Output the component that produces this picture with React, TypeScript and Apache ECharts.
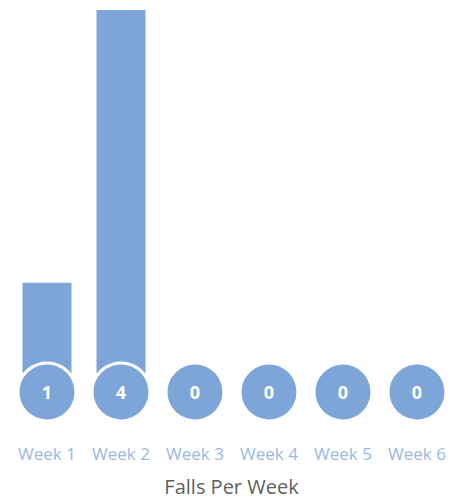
import React, { useEffect, useRef } from "react";
import * as echarts from "echarts";

const categories = ["Week 1", "Week 2", "Week 3", "Week 4", "Week 5", "Week 6"];
const falls = [1, 4, 0, 0, 0, 0];
const chartTitle = "Falls Per Week";
const badgeLevel = -0.2;

export default function App() {
  const ref = useRef<HTMLDivElement>(null);
  useEffect(() => {
    document.body.style.margin = "0";
    if (!ref.current) return;
    const chart = echarts.init(ref.current, undefined, { renderer: "svg" });
    chart.setOption({
      animation: false,
      title: {
        text: chartTitle,
        left: "center",
        top: 475,
        padding: 0,
        textStyle: { fontSize: 20, fontWeight: "normal", color: "#5f5f5f", fontFamily: "Open Sans", lineHeight: 22 },
      },
      grid: { left: 10, right: 9, top: 10, bottom: 109 },
      xAxis: {
        type: "category",
        data: categories,
        axisLine: { show: false },
        axisTick: { show: false },
        axisLabel: { interval: 0, margin: 53, fontSize: 17, color: "#9ab8e2", fontFamily: "Open Sans" },
      },
      yAxis: {
        type: "value",
        min: badgeLevel,
        max: 4,
        show: false,
        splitLine: { show: false },
      },
      series: [
        {
          type: "bar",
          data: falls,
          barWidth: 49,
          itemStyle: { color: "#7ea5d8" },
          z: 1,
        },
        {
          type: "scatter",
          data: falls.map(() => badgeLevel),
          symbol: "circle",
          symbolSize: 58,
          itemStyle: { color: "#7ea5d8", borderColor: "#ffffff", borderWidth: 3, opacity: 1 },
          label: {
            show: true,
            position: "inside",
            formatter: (p: any) => String(falls[p.dataIndex]),
            color: "#ffffff",
            fontSize: 18,
            fontWeight: "bold",
            fontFamily: "Open Sans",
          },
          z: 3,
        },
      ],
    });
    return () => chart.dispose();
  }, []);
  return <div ref={ref} style={{ width: 463, height: 501 }} />;
}
